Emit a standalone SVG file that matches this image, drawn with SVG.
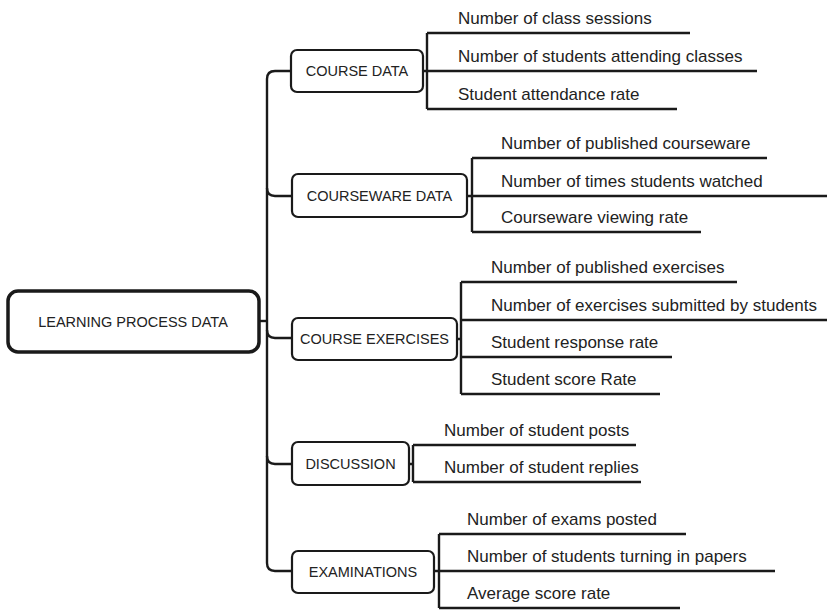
<svg xmlns="http://www.w3.org/2000/svg" width="827" height="610" viewBox="0 0 827 610">
<style>
.box{fill:#fff;stroke:#1a1a1a;stroke-width:2.2}
.root{fill:#fff;stroke:#1a1a1a;stroke-width:3.5}
.bt{font-family:"Liberation Sans",Arial,sans-serif;font-size:14.5px;fill:#222;text-anchor:middle}
.lt{font-family:"Liberation Sans",Arial,sans-serif;font-size:17px;fill:#222}
.ln{fill:none;stroke:#1a1a1a;stroke-width:2.4}
</style>
<rect width="827" height="610" fill="#fff"/>
<g id="connectors" class="ln">
<path d="M259,321 H267"/>
<path d="M291,71 H275 Q267,71 267,79 V563 Q267,571 275,571 H293"/>
<path d="M267,188 Q267,196 275,196 H293"/>
<path d="M267,330 Q267,338 275,338 H293"/>
<path d="M267,456 Q267,464 275,464 H293"/>
<path d="M427,33 V109 M427,33 H690 M423,71 H757 M427,109 H677"/>
<path d="M472,158 V232 M472,158 H767 M467,196 H827 M472,232 H701"/>
<path d="M461,282 V394 M461,282 H737 M461,320 H827 M461,357 H672 M461,394 H660 M457,339 H461"/>
<path d="M413,445 V482 M413,445 H636 M413,482 H641 M409,464 H413"/>
<path d="M439,534 V608 M439,534 H686 M434,571 H775 M439,608 H680"/>
</g>
<g id="root"><rect class="root" x="8" y="291" width="251" height="61" rx="10"/><text class="bt" x="133" y="327">LEARNING PROCESS DATA</text></g>
<g id="course-data"><rect class="box" x="291" y="50" width="132" height="42" rx="6"/><text class="bt" x="357" y="76">COURSE DATA</text>
<text class="lt" x="458" y="24">Number of class sessions</text>
<text class="lt" x="458" y="62">Number of students attending classes</text>
<text class="lt" x="458" y="100">Student attendance rate</text></g>
<g id="courseware-data"><rect class="box" x="292" y="174" width="175" height="43" rx="6"/><text class="bt" x="379.5" y="201">COURSEWARE DATA</text>
<text class="lt" x="501" y="149">Number of published courseware</text>
<text class="lt" x="501" y="187">Number of times students watched</text>
<text class="lt" x="501" y="223">Courseware viewing rate</text></g>
<g id="course-exercises"><rect class="box" x="292" y="318" width="165" height="42" rx="6"/><text class="bt" x="374.5" y="344">COURSE EXERCISES</text>
<text class="lt" x="491" y="273">Number of published exercises</text>
<text class="lt" x="491" y="311">Number of exercises submitted by students</text>
<text class="lt" x="491" y="348">Student response rate</text>
<text class="lt" x="491" y="385">Student score Rate</text></g>
<g id="discussion"><rect class="box" x="292" y="442" width="117" height="43" rx="6"/><text class="bt" x="350.5" y="469">DISCUSSION</text>
<text class="lt" x="444" y="436">Number of student posts</text>
<text class="lt" x="444" y="473">Number of student replies</text></g>
<g id="examinations"><rect class="box" x="292" y="551" width="142" height="42" rx="6"/><text class="bt" x="363" y="577">EXAMINATIONS</text>
<text class="lt" x="467" y="525">Number of exams posted</text>
<text class="lt" x="467" y="562">Number of students turning in papers</text>
<text class="lt" x="467" y="599">Average score rate</text></g>
</svg>
